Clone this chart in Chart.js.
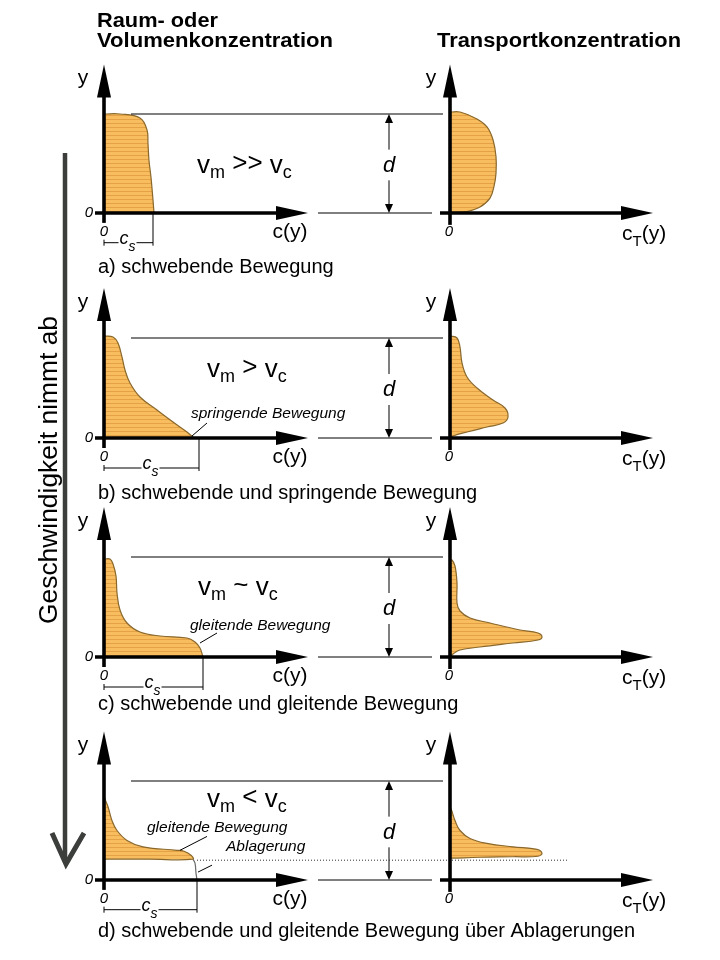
<!DOCTYPE html>
<html>
<head>
<meta charset="utf-8">
<script src="https://cdn.jsdelivr.net/npm/chart.js@4.4.1/dist/chart.umd.min.js"></script>
<style>
  html, body { margin: 0; padding: 0; background: #fff; }
  #wrap { width: 720px; height: 960px; }
</style>
</head>
<body>
<div id="wrap"><canvas id="chart" width="720" height="960"></canvas></div>
<script>
// heights in units of flow depth d (0 = bed, 1 = surface), concentrations relative
const levels = ['a', 'b', 'c', 'd']
const captions = [
  'a) schwebende Bewegung',
  'b) schwebende und springende Bewegung',
  'c) schwebende und gleitende Bewegung',
  'd) schwebende und gleitende Bewegung über Ablagerungen'
]
const relations = ['>>', '>', '~', '<']
const csValues = [0.49, 0.95, 0.99, 0.93]

// a) schwebende Bewegung
const hRaumA = [0, 0.13, 0.36, 0.53, 0.70, 0.84, 0.96, 1.0, 1.0]
const cRaumA = [0.50, 0.49, 0.47, 0.45, 0.44, 0.43, 0.36, 0.16, 0]
const hTransA = [0, 0.015, 0.06, 0.15, 0.27, 0.40, 0.57, 0.74, 0.87, 0.95, 1.02, 1.02]
const cTransA = [0, 0.17, 0.30, 0.40, 0.44, 0.46, 0.46, 0.43, 0.37, 0.27, 0.10, 0]

// b) schwebende und springende Bewegung
const hRaumB = [0, 0.06, 0.16, 0.28, 0.41, 0.55, 0.68, 0.81, 0.95, 1.01, 1.02]
const cRaumB = [0.90, 0.83, 0.69, 0.53, 0.36, 0.26, 0.21, 0.18, 0.14, 0.09, 0]
const hTransB = [0, 0.02, 0.06, 0.11, 0.15, 0.21, 0.30, 0.38, 0.50, 0.61, 0.75, 0.91, 1.0, 1.02]
const cTransB = [0, 0.03, 0.17, 0.37, 0.53, 0.58, 0.55, 0.43, 0.27, 0.17, 0.12, 0.10, 0.07, 0]

// c) schwebende und gleitende Bewegung
const hRaumC = [0, 0.09, 0.15, 0.19, 0.21, 0.25, 0.34, 0.47, 0.64, 0.81, 0.93, 0.98, 0.98]
const cRaumC = [0.99, 0.96, 0.91, 0.83, 0.56, 0.36, 0.23, 0.16, 0.13, 0.12, 0.09, 0.06, 0]
const hTransC = [0, 0.03, 0.07, 0.10, 0.14, 0.17, 0.20, 0.24, 0.27, 0.34, 0.39, 0.46, 0.54, 0.74, 0.91, 0.97, 0.97]
const cTransC = [0, 0.03, 0.10, 0.30, 0.63, 0.88, 0.92, 0.88, 0.70, 0.40, 0.20, 0.10, 0.07, 0.07, 0.05, 0.02, 0]

// d) ... über Ablagerungen (deposit top at h = 0.21)
const hRaumD = [0.21, 0.21, 0.21, 0.25, 0.29, 0.30, 0.335, 0.40, 0.50, 0.60, 0.74, 0.84]
const cRaumD = [0, 0.45, 0.89, 0.87, 0.80, 0.73, 0.39, 0.23, 0.13, 0.08, 0.04, 0]
const hBedD = [0.21, 0.17, 0.07, 0]
const cBedD = [0.89, 0.91, 0.92, 0.93]
const hTransD = [0.22, 0.22, 0.23, 0.235, 0.24, 0.27, 0.31, 0.335, 0.37, 0.42, 0.50, 0.60, 0.72, 0.72]
const cTransD = [0, 0.02, 0.30, 0.63, 0.88, 0.92, 0.87, 0.63, 0.37, 0.20, 0.10, 0.05, 0.01, 0]

// page layout (pixels)
const rowBed = [213, 438, 657, 880]
const rowTop = [114, 338, 557, 781]
const captionDrop = [60, 61, 53, 57]
const velStart = [0.93, 1.03, 0.94, 1.03]
const velBase = [0.40, 0.61, 0.62, 0.74]
const leftOrigin = 104
const rightOrigin = 450
const unitPx = 100
const W = 720, H = 960
const FONT = '"Liberation Sans", Arial, sans-serif'

function makeHatch() {
  const p = document.createElement('canvas')
  p.width = 4
  p.height = 4
  const g = p.getContext('2d')
  g.fillStyle = '#f7bd5e'
  g.fillRect(0, 0, 4, 4)
  g.fillStyle = '#e5a146'
  g.fillRect(0, 3, 4, 1)
  return g.createPattern(p, 'repeat')
}
const hatch = makeHatch()

function profile(h, c, xAxisID, yAxisID, filled = true) {
  return {
    data: h.map((v, i) => ({ x: c[i], y: v })),
    xAxisID,
    yAxisID,
    borderColor: filled ? '#8a682c' : '#6a6a6a',
    borderWidth: 1.2,
    backgroundColor: hatch,
    fill: filled ? 'origin' : false,
    pointRadius: 0,
    tension: 0.4
  }
}

const scales = {
  xl: { type: 'linear', display: false, min: -leftOrigin / unitPx, max: (W - leftOrigin) / unitPx },
  xr: { type: 'linear', display: false, min: -rightOrigin / unitPx, max: (W - rightOrigin) / unitPx }
}
levels.forEach((k, i) => {
  const u = rowBed[i] - rowTop[i]
  scales['y' + k] = { type: 'linear', display: false, min: -(H - rowBed[i]) / u, max: rowBed[i] / u }
})

function line(ctx, x1, y1, x2, y2, w) {
  ctx.lineWidth = w
  ctx.beginPath()
  ctx.moveTo(x1, y1)
  ctx.lineTo(x2, y2)
  ctx.stroke()
}

function tri(ctx, x1, y1, x2, y2, x3, y3) {
  ctx.beginPath()
  ctx.moveTo(x1, y1)
  ctx.lineTo(x2, y2)
  ctx.lineTo(x3, y3)
  ctx.closePath()
  ctx.fill()
}

function text(ctx, s, x, y, font, align = 'left', baseline = 'alphabetic', fitWidth = 0) {
  ctx.save()
  ctx.font = font
  ctx.textAlign = align
  ctx.textBaseline = baseline
  if (fitWidth) {
    const w = ctx.measureText(s).width
    ctx.translate(x, y)
    ctx.scale(fitWidth / w, 1)
    ctx.fillText(s, 0, 0)
  } else {
    ctx.fillText(s, x, y)
  }
  ctx.restore()
}

// pieces: [text, font, baseline shift]
function runs(ctx, pieces, x, y) {
  ctx.save()
  ctx.textAlign = 'left'
  ctx.textBaseline = 'alphabetic'
  pieces.forEach(([s, font, dy]) => {
    ctx.font = font
    ctx.fillText(s, x, y + dy)
    x += ctx.measureText(s).width
  })
  ctx.restore()
}

function axes(ctx, x0, Y, xStart, xTip, below) {
  const tip = Y(1.5)
  line(ctx, x0, Y(below), x0, tip + 30, 3.6)
  tri(ctx, x0, tip, x0 - 7, tip + 33, x0 + 7, tip + 33)
  line(ctx, xStart, Y(0), xTip - 30, Y(0), 3.6)
  tri(ctx, xTip, Y(0), xTip - 32, Y(0) - 7, xTip - 32, Y(0) + 7)
}

const sketch = {
  id: 'sketch',
  afterDatasetsDraw(chart) {
    const ctx = chart.ctx
    const L = v => chart.scales.xl.getPixelForValue(v)
    const R = v => chart.scales.xr.getPixelForValue(v)
    ctx.save()
    ctx.fillStyle = '#000'
    ctx.strokeStyle = '#000'
    ctx.lineCap = 'butt'

    levels.forEach((k, i) => {
      const ys = chart.scales['y' + k]
      const Y = v => ys.getPixelForValue(v)

      // flow surface and bed lines
      line(ctx, L(0.27), Y(1), R(-0.07), Y(1), 1)
      line(ctx, L(2.14), Y(0), R(-0.18), Y(0), 1)

      // d dimension
      const dx = R(-0.61)
      line(ctx, dx, Y(1) + 8, dx, Y(0.64), 1)
      line(ctx, dx, Y(0.33), dx, Y(0) - 8, 1)
      tri(ctx, dx, Y(1), dx - 4, Y(1) + 9, dx + 4, Y(1) + 9)
      tri(ctx, dx, Y(0), dx - 4, Y(0) - 9, dx + 4, Y(0) - 9)
      text(ctx, 'd', dx, Y(0.48), 'italic 22px ' + FONT, 'center', 'middle')

      if (k === 'd') {
        ctx.save()
        ctx.setLineDash([1, 2])
        ctx.strokeStyle = '#333'
        line(ctx, L(0.93), Y(0.2), R(1.17), Y(0.2), 1)
        ctx.restore()
      }

      axes(ctx, L(0), Y, L(-0.09), L(2.04), -0.1)
      axes(ctx, R(0), Y, R(-0.1), R(2.03), -0.12)

      // axis labels
      text(ctx, 'y', L(-0.21), Y(1.30), '21px ' + FONT, 'center')
      text(ctx, 'y', R(-0.19), Y(1.30), '21px ' + FONT, 'center')
      text(ctx, '0', L(-0.15), Y(0), 'italic 15px ' + FONT, 'center', 'middle')
      text(ctx, '0', L(0), Y(-0.19), 'italic 15px ' + FONT, 'center', 'middle')
      text(ctx, '0', R(-0.01), Y(-0.19), 'italic 15px ' + FONT, 'center', 'middle')
      text(ctx, 'c(y)', L(1.86), Y(-0.25), '21px ' + FONT, 'center')
      runs(ctx, [['c', '21px ' + FONT, 0], ['T', '15px ' + FONT, 6], ['(y)', '21px ' + FONT, 0]], R(1.72), Y(-0.27))

      // c_s dimension
      const cy = Y(-0.30)
      const a = L(0), b = L(csValues[i]), mid = (a + b) / 2
      line(ctx, a, cy, mid - 10, cy, 1)
      line(ctx, mid + 8, cy, b, cy, 1)
      line(ctx, a, cy - 3, a, cy + 3, 1)
      line(ctx, b, Y(0), b, cy + 3, 1)
      text(ctx, 'c', mid, cy + 1, 'italic 18px ' + FONT, 'right')
      text(ctx, 's', mid, cy + 8, 'italic 14px ' + FONT, 'left')

      // velocity relation
      runs(ctx, [
        ['v', '26px ' + FONT, 0], ['m', '18px ' + FONT, 5],
        [' ' + relations[i] + ' ', '26px ' + FONT, -2],
        ['v', '26px ' + FONT, 0], ['c', '18px ' + FONT, 5]
      ], L(velStart[i]), Y(velBase[i]))

      text(ctx, captions[i], L(-0.06), rowBed[i] + captionDrop[i], '20px ' + FONT)
    })

    // notes on the profiles
    const note = 'italic 15.5px ' + FONT
    const Yb = v => chart.scales.yb.getPixelForValue(v)
    const Yc = v => chart.scales.yc.getPixelForValue(v)
    const Yd = v => chart.scales.yd.getPixelForValue(v)
    text(ctx, 'springende Bewegung', L(0.87), Yb(0.24), note, 'left', 'middle')
    line(ctx, L(0.88), Yb(0.02), L(1.03), Yb(0.15), 1)
    text(ctx, 'gleitende Bewegung', L(0.86), Yc(0.31), note, 'left', 'middle')
    line(ctx, L(0.96), Yc(0.14), L(1.13), Yc(0.24), 1)
    text(ctx, 'gleitende Bewegung', L(0.43), Yd(0.53), note, 'left', 'middle')
    line(ctx, L(0.76), Yd(0.30), L(1.03), Yd(0.44), 1)
    text(ctx, 'Ablagerung', L(1.22), Yd(0.335), note, 'left', 'middle')
    line(ctx, L(0.94), Yd(0.08), L(1.08), Yd(0.15), 1)

    // headers
    text(ctx, 'Raum- oder', 97, 27, 'bold 20px ' + FONT, 'left', 'alphabetic', 121)
    text(ctx, 'Volumenkonzentration', 97, 47, 'bold 20px ' + FONT, 'left', 'alphabetic', 236)
    text(ctx, 'Transportkonzentration', 437, 47, 'bold 20px ' + FONT, 'left', 'alphabetic', 244)

    // velocity decreases downwards
    ctx.strokeStyle = '#3b3e3b'
    ctx.lineJoin = 'miter'
    line(ctx, 65, 153, 65, 862, 4.5)
    ctx.lineWidth = 5
    ctx.beginPath()
    ctx.moveTo(52, 833)
    ctx.lineTo(66, 864)
    ctx.lineTo(84, 833)
    ctx.stroke()
    ctx.save()
    ctx.translate(57, 470)
    ctx.rotate(-Math.PI / 2)
    text(ctx, 'Geschwindigkeit nimmt ab', 0, 0, '25px ' + FONT, 'center', 'alphabetic', 308)
    ctx.restore()

    ctx.restore()
  }
}

new Chart(document.getElementById('chart'), {
  type: 'line',
  data: {
    datasets: [
      profile(hRaumA, cRaumA, 'xl', 'ya'),
      profile(hTransA, cTransA, 'xr', 'ya'),
      profile(hRaumB, cRaumB, 'xl', 'yb'),
      profile(hTransB, cTransB, 'xr', 'yb'),
      profile(hRaumC, cRaumC, 'xl', 'yc'),
      profile(hTransC, cTransC, 'xr', 'yc'),
      profile(hRaumD, cRaumD, 'xl', 'yd'),
      profile(hBedD, cBedD, 'xl', 'yd', false),
      profile(hTransD, cTransD, 'xr', 'yd')
    ]
  },
  options: {
    indexAxis: 'y',
    responsive: false,
    animation: false,
    events: [],
    layout: { padding: 0 },
    scales,
    plugins: {
      legend: { display: false },
      tooltip: { enabled: false }
    }
  },
  plugins: [sketch]
})
</script>
</body>
</html>
